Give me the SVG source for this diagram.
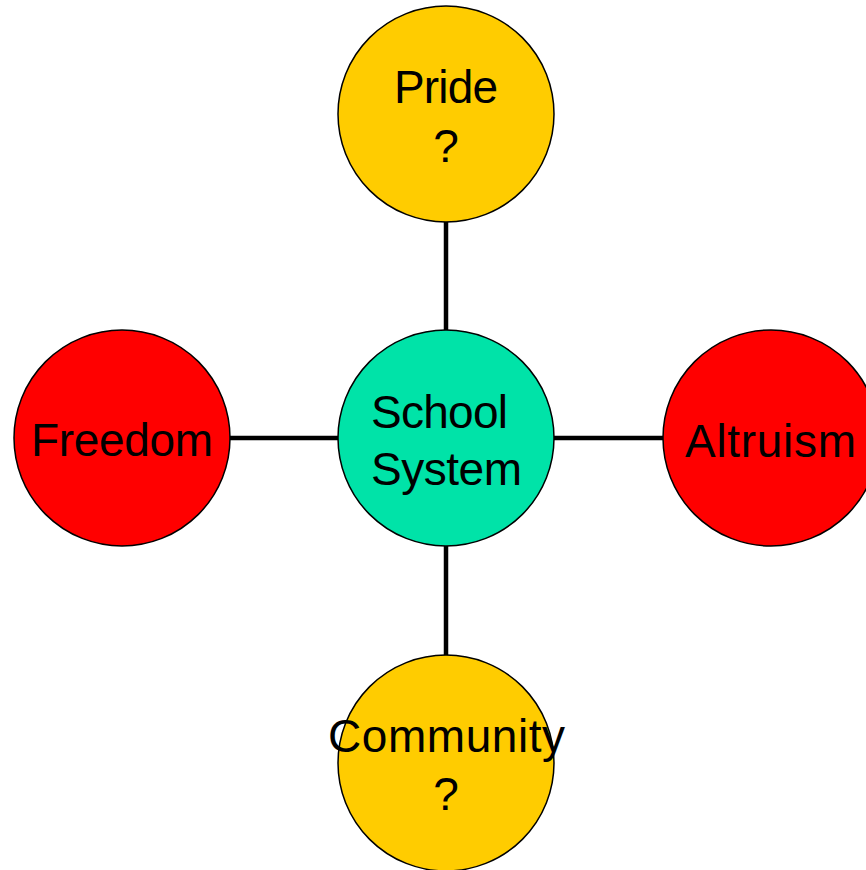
<svg xmlns="http://www.w3.org/2000/svg" width="866" height="870" viewBox="0 0 866 870">
<style>
.n{stroke:#000;stroke-width:1.5}
.y{fill:#FFCC00}.r{fill:#FF0000}.g{fill:#00E3A8}
text{font-family:"Liberation Sans",Arial,sans-serif;font-size:46px;fill:#000}
.c{text-anchor:middle}
.e{stroke:#000;stroke-width:4.5;fill:none}
</style>
<rect width="866" height="870" fill="#fff"/>
<g id="edges">
<line class="e" x1="446" y1="222" x2="446" y2="330"/>
<line class="e" x1="446" y1="546" x2="446" y2="655"/>
<line class="e" x1="230" y1="438" x2="338" y2="438"/>
<line class="e" x1="554" y1="438" x2="663" y2="438"/>
</g>
<g id="pride"><circle class="n y" cx="446" cy="114" r="108"/><text class="c" x="446" y="103" textLength="104">Pride</text><text class="c" x="446" y="162">?</text></g>
<g id="school"><circle class="n g" cx="446" cy="438" r="108"/><text x="371" y="428" textLength="137">School</text><text x="371" y="485" textLength="151">System</text></g>
<g id="freedom"><circle class="n r" cx="122" cy="438" r="108"/><text class="c" x="122" y="456" textLength="182">Freedom</text></g>
<g id="altruism"><circle class="n r" cx="771" cy="438" r="108"/><text class="c" x="770.5" y="457" textLength="171">Altruism</text></g>
<g id="community"><circle class="n y" cx="446" cy="763" r="108"/><text class="c" x="446.5" y="752" textLength="237">Community</text><text class="c" x="446" y="810">?</text></g>
</svg>
